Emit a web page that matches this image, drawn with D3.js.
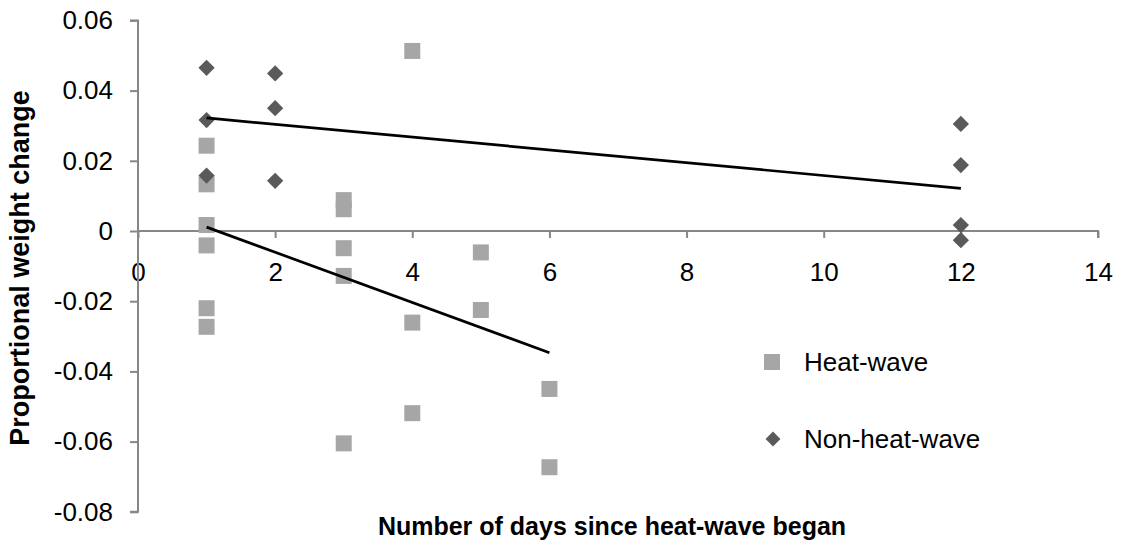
<!DOCTYPE html>
<html>
<head>
<meta charset="utf-8">
<script src="https://cdn.jsdelivr.net/npm/d3@7"></script>
<style>
  html, body { margin: 0; padding: 0; background: #fff; }
  svg { display: block; font-family: "Liberation Sans", Arial, sans-serif; }
</style>
</head>
<body>
<svg id="chart" width="1121" height="544"></svg>
<script>
// ---- data ----
const heatX = [1, 1, 1, 1, 1, 1, 3, 3, 3, 3, 3, 4, 4, 4, 5, 5, 6, 6];
const heatY = [0.0243, 0.0133, 0.0017, -0.0041, -0.0220, -0.0273,
               0.0088, 0.0062, -0.0049, -0.0128, -0.0605,
               0.0513, -0.0261, -0.0519,
               -0.0061, -0.0225,
               -0.0450, -0.0673];
const nonX = [1, 1, 1, 2, 2, 2, 12, 12, 12, 12];
const nonY = [0.0465, 0.0316, 0.0158, 0.0449, 0.0350, 0.0143, 0.0305, 0.0188, 0.0017, -0.0026];
const xTicks = [0, 2, 4, 6, 8, 10, 12, 14];
const yTicks = [0.06, 0.04, 0.02, 0, -0.02, -0.04, -0.06, -0.08];
const xTickLabels = ["0", "2", "4", "6", "8", "10", "12", "14"];
const yTickLabels = ["0.06", "0.04", "0.02", "0", "-0.02", "-0.04", "-0.06", "-0.08"];
const seriesNames = ["Heat-wave", "Non-heat-wave"];
const xTitle = "Number of days since heat-wave began";
const yTitle = "Proportional weight change";

// ---- layout ----
const svg = d3.select("#chart");
const x = d3.scaleLinear().domain([0, 14]).range([138, 1098]);
const y = d3.scaleLinear().domain([-0.08, 0.06]).range([511.8, 20.4]);
const axisColor = "#878787";
const heatColor = "#a6a6a6";
const nonColor = "#5a5a5a";
const tickFont = 26;

// x axis at y=0
const xAxis = svg.append("g").attr("transform", `translate(0,${y(0)})`)
  .call(d3.axisBottom(x).tickValues(xTicks).tickSize(7).tickFormat((d, i) => xTickLabels[i]));
xAxis.select(".domain").attr("stroke", axisColor).attr("stroke-width", 2)
  .attr("d", `M${x(0)},7V0H${x(14)}V7`);
xAxis.selectAll(".tick line").attr("stroke", axisColor).attr("stroke-width", 2);
xAxis.selectAll(".tick text").attr("font-size", tickFont).attr("fill", "#000")
  .attr("font-family", "Liberation Sans, Arial, sans-serif").attr("y", 50).attr("dy", 0);

// y axis at x=0
const yAxis = svg.append("g").attr("transform", `translate(${x(0)},0)`)
  .call(d3.axisLeft(y).tickValues(yTicks).tickSize(8).tickFormat((d, i) => yTickLabels[i]));
yAxis.select(".domain").attr("stroke", axisColor).attr("stroke-width", 2)
  .attr("d", `M-8,${y(0.06)}H0V${y(-0.08)}H-8`);
yAxis.selectAll(".tick line").attr("stroke", axisColor).attr("stroke-width", 2);
yAxis.selectAll(".tick text").attr("font-size", tickFont).attr("fill", "#000")
  .attr("font-family", "Liberation Sans, Arial, sans-serif").attr("x", -25);

// regression lines
function fit(xs, ys) {
  const n = xs.length;
  const mx = d3.mean(xs), my = d3.mean(ys);
  let sxy = 0, sxx = 0;
  for (let i = 0; i < n; i++) { sxy += (xs[i] - mx) * (ys[i] - my); sxx += (xs[i] - mx) ** 2; }
  const b = sxy / sxx, a = my - b * mx;
  const [x0, x1] = d3.extent(xs);
  return [[x0, a + b * x0], [x1, a + b * x1]];
}
const line = d3.line().x(d => x(d[0])).y(d => y(d[1]));

const heat = heatX.map((v, i) => [v, heatY[i]]);
const non = nonX.map((v, i) => [v, nonY[i]]);
const sq = d3.symbol().type(d3.symbolSquare).size(16 * 16);
const dm = d3.symbol().type(d3.symbolSquare).size(11.5 * 11.5);

// heat-wave squares
svg.append("g").selectAll("path").data(heat).join("path")
  .attr("d", sq).attr("fill", heatColor)
  .attr("transform", d => `translate(${x(d[0])},${y(d[1])})`);

// non-heat-wave diamonds
svg.append("g").selectAll("path").data(non).join("path")
  .attr("d", dm).attr("fill", nonColor)
  .attr("transform", d => `translate(${x(d[0])},${y(d[1])}) rotate(45)`);

svg.append("path").attr("d", line(fit(heatX, heatY))).attr("stroke", "#000").attr("stroke-width", 2.7).attr("fill", "none");
svg.append("path").attr("d", line(fit(nonX, nonY))).attr("stroke", "#000").attr("stroke-width", 2.7).attr("fill", "none");

// legend
const lg = svg.append("g");
lg.append("path").attr("d", sq).attr("fill", heatColor).attr("transform", "translate(772,362)");
lg.append("text").attr("x", 804).attr("y", 371).attr("font-size", 26).text(seriesNames[0]);
lg.append("path").attr("d", d3.symbol().type(d3.symbolSquare).size(10.5 * 10.5)).attr("fill", nonColor)
  .attr("transform", "translate(773,439) rotate(45)");
lg.append("text").attr("x", 804).attr("y", 448).attr("font-size", 26).text(seriesNames[1]);

// axis titles
svg.append("text").attr("x", 612).attr("y", 535).attr("text-anchor", "middle")
  .attr("font-size", 25).attr("font-weight", "bold").text(xTitle);
svg.append("text").attr("transform", "translate(28.5,268) rotate(-90)").attr("text-anchor", "middle")
  .attr("font-size", 27).attr("font-weight", "bold").text(yTitle);
</script>
</body>
</html>
